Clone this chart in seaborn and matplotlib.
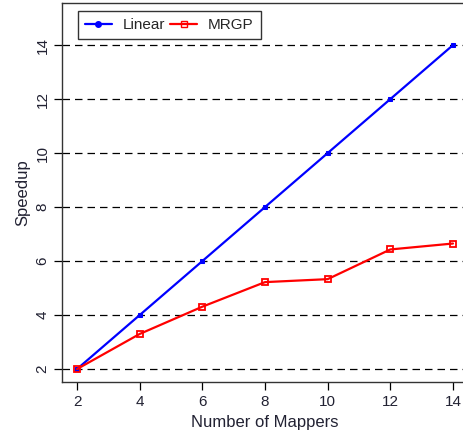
import matplotlib
matplotlib.use("Agg")
import matplotlib.pyplot as plt
import seaborn as sns
import pandas as pd
from matplotlib.lines import Line2D

mappers = [2, 4, 6, 8, 10, 12, 14]
linear = [2, 4, 6, 8, 10, 12, 14]
mrgp = [2.0, 3.30, 4.31, 5.22, 5.33, 6.43, 6.65]
series_names = ["Linear", "MRGP"]
y_ticks = [2, 4, 6, 8, 10, 12, 14]
x_ticks = [2, 4, 6, 8, 10, 12, 14]

df = pd.DataFrame({
    "Number of Mappers": mappers * 2,
    "Speedup": linear + mrgp,
    "Series": [series_names[0]] * len(mappers) + [series_names[1]] * len(mappers),
})

sns.set_style("white")
plt.rcParams["font.family"] = ["Liberation Sans", "DejaVu Sans"]

fig = plt.figure(figsize=(4.63, 4.34), dpi=100)
ax = fig.add_axes([62 / 463, 1 - 382 / 434, (468 - 62) / 463, (382 - 3) / 434])

for yv in y_ticks:
    ax.axhline(yv, color="black", lw=0.9, ls=(0, (6, 4)), zorder=0)

sns.lineplot(data=df[df.Series == "Linear"], x="Number of Mappers", y="Speedup",
             color="#0000ff", lw=1.6, marker="s", markersize=3.5,
             markerfacecolor="#0000ff", markeredgecolor="#0000ff", ax=ax, label="Linear")
sns.lineplot(data=df[df.Series == "MRGP"], x="Number of Mappers", y="Speedup",
             color="#ff0000", lw=1.6, marker="s", markersize=5,
             markerfacecolor="none", markeredgecolor="#ff0000", markeredgewidth=1.3,
             ax=ax, label="MRGP")

ax.set_xlim(1.52, 14.48)
ax.set_ylim(1.52, 15.56)
ax.set_xticks(x_ticks)
ax.set_yticks(y_ticks)
ax.set_yticklabels([str(v) for v in y_ticks], rotation=90, va="center")
ax.tick_params(axis="both", direction="out", length=6, width=0.9, labelsize=11,
               colors="black", labelcolor="#222233", left=True, bottom=True)
ax.tick_params(axis="y", pad=3)
ax.set_xlabel("Number of Mappers", fontsize=12, color="#222233", labelpad=4)
ax.set_ylabel("Speedup", fontsize=12, color="#222233", labelpad=4)

for s in ["left", "bottom", "top", "right"]:
    ax.spines[s].set_visible(True)
    ax.spines[s].set_color("#333333")
    ax.spines[s].set_linewidth(1.0)

h = [Line2D([], [], color="#0000ff", lw=1.6, marker="o", markersize=4),
     Line2D([], [], color="#ff0000", lw=1.6, marker="s", markersize=5, markerfacecolor="none")]
leg = ax.legend(h, series_names, loc="upper left", bbox_to_anchor=(0.039, 0.978), ncol=2,
                frameon=True, fancybox=False, edgecolor="black", fontsize=11,
                handlelength=1.8, columnspacing=0.3, handletextpad=0.7, borderpad=0.45,
                borderaxespad=0)
leg.get_frame().set_linewidth(1.0)

fig.savefig("out.png", dpi=100)
